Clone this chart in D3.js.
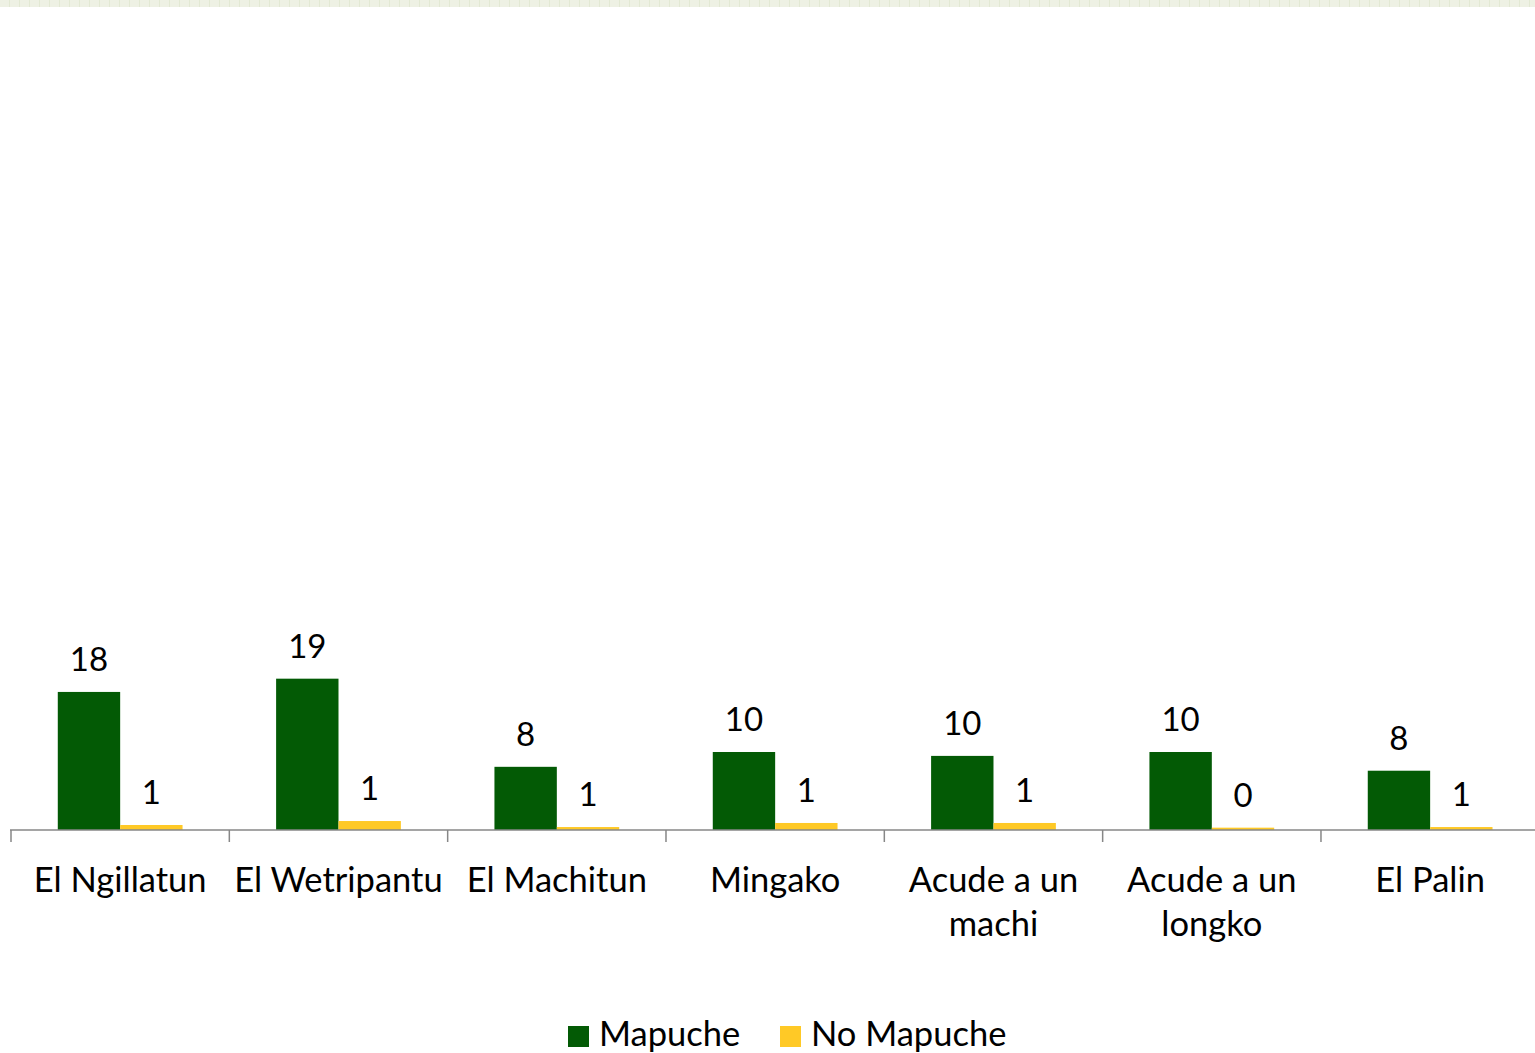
<!DOCTYPE html>
<html><head><meta charset="utf-8">
<script src="https://cdn.jsdelivr.net/npm/d3@7"></script>
<style>
html,body{margin:0;padding:0;background:#fff;overflow:hidden;}
svg{display:block;}
text{font-family:Lato,"Open Sans",sans-serif;fill:#000;}
</style></head>
<body>
<svg id="chart" width="1535" height="1053"></svg>
<script>
const categories = ["El Ngillatun","El Wetripantu","El Machitun","Mingako","Acude a un machi","Acude a un longko","El Palin"];
const series = ["Mapuche","No Mapuche"];
const mapucheValues = [17.7,19.4,8.1,10.0,9.5,10.0,7.6];
const noMapucheValues = [0.64,1.15,0.38,0.9,0.9,0.3,0.38];
const mapucheLabels = ["18","19","8","10","10","10","8"];
const noMapucheLabels = ["1","1","1","1","1","0","1"];
const colors = ["#035a05","#ffc926"];

const svg = d3.select("#chart");
const W = 1535, H = 1053;
const baseY = 830, left = 11, step = 218.33;

// top decorative strip
const defs = svg.append("defs");
const pat = defs.append("pattern").attr("id","strip").attr("width",10).attr("height",7).attr("patternUnits","userSpaceOnUse");
pat.append("rect").attr("width",10).attr("height",7).attr("fill","#eef1e4");
pat.append("rect").attr("x",9).attr("width",1).attr("height",7).attr("fill","#e3e9d4");
svg.append("rect").attr("x",0).attr("y",0).attr("width",W).attr("height",7).attr("fill","url(#strip)");

const x = d3.scaleBand().domain(categories).range([left, left + step*categories.length]).paddingInner(0).paddingOuter(0);
const xs = d3.scaleBand().domain(series).range([0, x.bandwidth()]).paddingInner(0).paddingOuter(0.75);
const y = d3.scaleLinear().domain([0,100]).range([baseY, 50]);

const data = categories.map((c,i)=>({cat:c, vals:[
  {s:series[0], v:mapucheValues[i], lab:mapucheLabels[i]},
  {s:series[1], v:noMapucheValues[i], lab:noMapucheLabels[i]}
]}));

const g = svg.append("g");
const groups = g.selectAll("g.cat").data(data).join("g").attr("transform",d=>`translate(${x(d.cat)},0)`);
groups.selectAll("rect").data(d=>d.vals).join("rect")
  .attr("x",d=>xs(d.s)).attr("width",xs.bandwidth())
  .attr("y",d=>y(d.v)).attr("height",d=>baseY - y(d.v))
  .attr("fill",(d,i)=>colors[i]);
groups.selectAll("text").data(d=>d.vals).join("text")
  .attr("x",d=>xs(d.s)+xs.bandwidth()/2).attr("y",d=>y(d.v)-21)
  .attr("text-anchor","middle").style("font-size","33px")
  .text(d=>d.lab);

// axis
const axisG = svg.append("g").attr("transform",`translate(0,${baseY})`);
const boundaries = d3.range(categories.length+1).map(i=>left + i*step);
axisG.append("line").attr("x1",left-1).attr("x2",W+10).attr("y1",0).attr("y2",0)
  .attr("stroke","#878787").attr("stroke-width",1.5);
axisG.selectAll("line.tick").data(boundaries).join("line").attr("class","tick")
  .attr("x1",d=>d).attr("x2",d=>d).attr("y1",0).attr("y2",12)
  .attr("stroke","#878787").attr("stroke-width",1.5);

// category labels with wrapping
const labG = svg.append("g");
categories.forEach(c=>{
  const t = labG.append("text").attr("x",x(c)+x.bandwidth()/2).attr("y",892)
    .attr("text-anchor","middle").style("font-size","34.5px");
  const words = c.split(" ");
  let line = [], lines = [];
  const tmp = t.append("tspan");
  words.forEach(w=>{
    const test = line.concat([w]).join(" ");
    tmp.text(test);
    if (tmp.node().getComputedTextLength() > 216 && line.length){
      lines.push(line.join(" ")); line=[w];
    } else line.push(w);
  });
  lines.push(line.join(" "));
  tmp.remove();
  lines.forEach((l,i)=>{
    t.append("tspan").attr("x",x(c)+x.bandwidth()/2).attr("dy",i?44:0).text(l);
  });
});

// legend
const leg = svg.append("g");
const legX = [568, 780];
series.forEach((s,i)=>{
  leg.append("rect").attr("x",legX[i]).attr("y",1026).attr("width",21).attr("height",21).attr("fill",colors[i]);
  leg.append("text").attr("x",legX[i]+31).attr("y",1046).style("font-size","34.5px").text(s);
});
</script>
</body></html>
